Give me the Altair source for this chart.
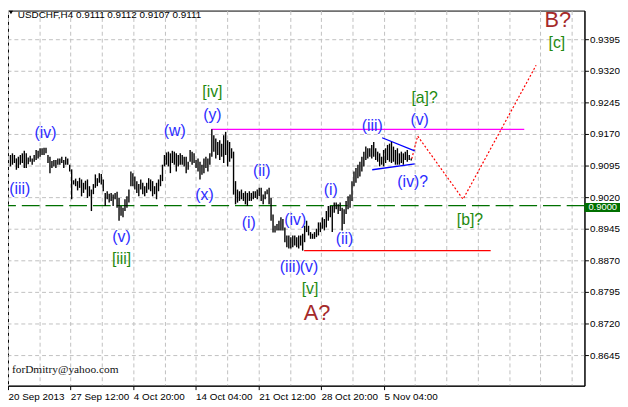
import altair as alt
import pandas as pd

# ---------------- data ----------------
title_text = "USDCHF,H4  0.9111 0.9112 0.9107 0.9111"
signature = "forDmitry@yahoo.com"

highs = [
    0.9120, 0.9124, 0.9120, 0.9112, 0.9116, 0.9120, 0.9124, 0.9130, 0.9124, 0.9114,
    0.9118, 0.9112, 0.9120, 0.9132, 0.9130, 0.9136, 0.9136, 0.9137, 0.9137, 0.9120,
    0.9116, 0.9106, 0.9108, 0.9108, 0.9112, 0.9112, 0.9116, 0.9108, 0.9116, 0.9112,
    0.9097, 0.9086, 0.9060, 0.9064, 0.9058, 0.9066, 0.9062, 0.9054, 0.9059, 0.9062,
    0.9046, 0.9038, 0.9051, 0.9074, 0.9065, 0.9077, 0.9075, 0.9062, 0.9030, 0.9034,
    0.9028, 0.9030, 0.9026, 0.9030, 0.9033, 0.9018, 0.8999, 0.8995, 0.9015, 0.9022,
    0.9038, 0.9081, 0.9077, 0.9069, 0.9058, 0.9051, 0.9062, 0.9054, 0.9046, 0.9054,
    0.9065, 0.9062, 0.9058, 0.9046, 0.9054, 0.9062, 0.9073, 0.9097, 0.9120, 0.9126,
    0.9128, 0.9124, 0.9130, 0.9128, 0.9124, 0.9120, 0.9124, 0.9120, 0.9116, 0.9116,
    0.9104, 0.9132, 0.9128, 0.9124, 0.9108, 0.9112, 0.9104, 0.9097, 0.9112, 0.9116,
    0.9112, 0.9124, 0.9181, 0.9167, 0.9159, 0.9151, 0.9155, 0.9147, 0.9167, 0.9175,
    0.9155, 0.9151, 0.9136, 0.9128, 0.9058, 0.9038, 0.9034, 0.9038, 0.9030, 0.9034,
    0.9030, 0.9034, 0.9030, 0.9034, 0.9034, 0.9038, 0.9042, 0.9042, 0.9026, 0.9034,
    0.9038, 0.9042, 0.9018, 0.8979, 0.8952, 0.8956, 0.8964, 0.8972, 0.8968, 0.8948,
    0.8929, 0.8929, 0.8925, 0.8929, 0.8929, 0.8925, 0.8929, 0.8929, 0.8933, 0.8952,
    0.8964, 0.8952, 0.8937, 0.8933, 0.8937, 0.8945, 0.8960, 0.8960, 0.8972, 0.8968,
    0.8987, 0.8999, 0.8999, 0.8999, 0.9007, 0.9007, 0.9003, 0.9007, 0.8995, 0.8991,
    0.9011, 0.9022, 0.9026, 0.9058, 0.9081, 0.9089, 0.9097, 0.9104, 0.9116, 0.9128,
    0.9140, 0.9136, 0.9136, 0.9144, 0.9151, 0.9136, 0.9128, 0.9124, 0.9116, 0.9132,
    0.9136, 0.9144, 0.9147, 0.9151, 0.9140, 0.9132, 0.9136, 0.9124, 0.9128, 0.9124,
    0.9128, 0.9132, 0.9120, 0.9112,
]
lows = [
    0.9093, 0.9097, 0.9101, 0.9085, 0.9089, 0.9097, 0.9101, 0.9089, 0.9089, 0.9098,
    0.9104, 0.9097, 0.9104, 0.9108, 0.9112, 0.9116, 0.9120, 0.9120, 0.9124, 0.9101,
    0.9077, 0.9089, 0.9093, 0.9089, 0.9097, 0.9097, 0.9101, 0.9089, 0.9097, 0.9097,
    0.9081, 0.9015, 0.9050, 0.9046, 0.9036, 0.9042, 0.9022, 0.9030, 0.9038, 0.9018,
    0.9022, 0.8987, 0.9027, 0.9042, 0.9046, 0.9054, 0.9050, 0.9034, 0.8999, 0.9015,
    0.9007, 0.9011, 0.8999, 0.9015, 0.8995, 0.8964, 0.8976, 0.8972, 0.8987, 0.8995,
    0.9007, 0.9046, 0.9046, 0.9038, 0.9030, 0.9022, 0.9038, 0.9027, 0.9022, 0.9030,
    0.9038, 0.9034, 0.9022, 0.9027, 0.9015, 0.9034, 0.9046, 0.9058, 0.9093, 0.9097,
    0.9093, 0.9077, 0.9101, 0.9097, 0.9081, 0.9093, 0.9097, 0.9097, 0.9093, 0.9077,
    0.9085, 0.9104, 0.9097, 0.9101, 0.9089, 0.9081, 0.9062, 0.9073, 0.9077, 0.9089,
    0.9081, 0.9097, 0.9116, 0.9128, 0.9112, 0.9120, 0.9108, 0.9116, 0.9101, 0.9120,
    0.9093, 0.9104, 0.9112, 0.9026, 0.9003, 0.9007, 0.9011, 0.9015, 0.9011, 0.9003,
    0.8999, 0.9011, 0.9011, 0.9015, 0.9018, 0.9015, 0.9022, 0.9011, 0.9003, 0.9015,
    0.9027, 0.9003, 0.8964, 0.8936, 0.8936, 0.8941, 0.8941, 0.8941, 0.8941, 0.8913,
    0.8901, 0.8898, 0.8898, 0.8901, 0.8905, 0.8901, 0.8898, 0.8905, 0.8893, 0.8913,
    0.8937, 0.8929, 0.8921, 0.8921, 0.8921, 0.8925, 0.8929, 0.8937, 0.8945, 0.8941,
    0.8948, 0.8964, 0.8972, 0.8937, 0.8983, 0.8991, 0.8980, 0.8987, 0.8941, 0.8956,
    0.8980, 0.8991, 0.8995, 0.9011, 0.9046, 0.9054, 0.9065, 0.9069, 0.9081, 0.9093,
    0.9108, 0.9112, 0.9116, 0.9112, 0.9116, 0.9108, 0.9104, 0.9093, 0.9097, 0.9093,
    0.9101, 0.9108, 0.9104, 0.9101, 0.9104, 0.9097, 0.9097, 0.9097, 0.9101, 0.9097,
    0.9108, 0.9104, 0.9108, 0.9107,
]

x_labels = ["20 Sep 2013", "", "27 Sep 12:00", "", "4 Oct 20:00", "", "14 Oct 04:00",
            "", "21 Oct 12:00", "", "28 Oct 20:00", "", "5 Nov 04:00"]
y_ticks = [0.8645, 0.8720, 0.8795, 0.8870, 0.8945, 0.9020, 0.9095,
           0.9170, 0.9245, 0.9320, 0.9395]

minute_text = ["(iv)", "(iii)", "(v)", "(w)", "(y)", "(x)", "(ii)", "(i)", "(iv)",
               "(iii)", "(v)", "(i)", "(ii)", "(iii)", "(v)", "(iv)?"]
minute_x = [18.2, 5.0, 56.7, 83.5, 102.6, 98.4, 127.4, 121.2, 144.4,
            142.3, 151.9, 162.9, 169.6, 183.6, 207.6, 204.3]
minute_y = [0.9173, 0.9040, 0.8926, 0.9177, 0.9216, 0.9025, 0.9083, 0.8958, 0.8966,
            0.8853, 0.8853, 0.9036, 0.8921, 0.9189, 0.9204, 0.9056]

minor_text = ["[iii]", "[iv]", "[v]", "[a]?", "[b]?", "[c]"]
minor_x = [56.7, 102.6, 152.2, 210.1, 233.3, 277.1]
minor_y = [0.8872, 0.9269, 0.8802, 0.9255, 0.8966, 0.9386]

major_text = ["A?", "B?"]
major_x = [155.5, 277.9]
major_y = [0.8728, 0.9423]

resist_x = [102, 261]
resist_price = 0.9181
support_x = [149, 244]
support_price = 0.8893
level_price = 0.9000

tri_x = [188.6, 205.1, 183.5, 205.1]
tri_y = [0.9161, 0.9130, 0.9085, 0.9099]
tri_side = ["upper", "upper", "lower", "lower"]

proj_x = [203.5, 206.8, 229.8, 266.9]
proj_y = [0.9111, 0.9165, 0.9015, 0.9333]

# ---------------- tables ----------------
bars_df = pd.DataFrame({"i": list(range(len(highs))), "high": highs, "low": lows})
minute_df = pd.DataFrame({"t": minute_text, "x": minute_x, "y": minute_y})
minor_df = pd.DataFrame({"t": minor_text, "x": minor_x, "y": minor_y})
major_df = pd.DataFrame({"t": major_text, "x": major_x, "y": major_y})
hlines_df = pd.DataFrame({
    "x": [resist_x[0], support_x[0]], "x2": [resist_x[1], support_x[1]],
    "y": [resist_price, support_price], "kind": ["resist", "support"]})
tri_df = pd.DataFrame({"x": tri_x, "y": tri_y, "side": tri_side})
proj_df = pd.DataFrame({"x": proj_x, "y": proj_y, "o": list(range(len(proj_x)))})
one_df = pd.DataFrame({"title": [title_text], "sig": [signature], "lvl": [level_price]})

# ---------------- scales / axes ----------------
STEP = 15.88
xs = alt.Scale(domain=[-1, 291.3], nice=False, zero=False, round=True)
ys = alt.Scale(domain=[0.857234, 0.946297], nice=False, zero=False)

label_arr = "[" + ",".join("'" + s + "'" for s in x_labels) + "]"
grid_vals = [round(-1 + STEP * k, 3) for k in range(19)]

FONT = "Liberation Sans"
xaxis = alt.Axis(
    values=grid_vals, title=None, grid=True, gridColor="#c0c0c0", gridDash=[4, 3],
    gridWidth=1, tickColor="black", tickSize=4,
    tickOpacity={"condition": {"test": f"round((datum.value+1)/{STEP}) % 2 == 0 && datum.value < 200",
                               "value": 1}, "value": 0},
    labelExpr=f"{label_arr}[round((datum.value+1)/{STEP})] || ''",
    labelAlign="left", labelBaseline="top", labelPadding=2, labelFlush=False,
    labelOverlap=False, labelFont=FONT, labelFontSize=10, labelColor="black",
    domainColor="black")
yaxis = alt.Axis(
    orient="right", values=y_ticks, format=".4f", title=None, grid=True,
    gridColor="#c0c0c0", gridDash=[4, 3], gridWidth=1, tickColor="black", tickSize=4,
    labelPadding=1, labelFont=FONT, labelFontSize=10, labelColor="black",
    labelAlign="left", labelOverlap=False, labelFlush=False, labelBound=False,
    domainColor="black")

NX = dict(scale=xs, axis=xaxis)
NY = dict(scale=ys, axis=yaxis)

# ---------------- layers ----------------
level = alt.Chart(one_df).mark_rule(color="#007000", strokeWidth=1.2, strokeDash=[18, 6]).encode(
    y=alt.Y("lvl:Q", **NY))

bars = alt.Chart(bars_df).mark_rule(color="black", strokeWidth=1.4, xOffset=0.5).encode(
    x=alt.X("i:Q", **NX),
    y=alt.Y("low:Q", **NY),
    y2="high:Q")

hlines = alt.Chart(hlines_df).mark_rule(strokeWidth=1.3).encode(
    x=alt.X("x:Q", **NX), x2="x2:Q",
    y=alt.Y("y:Q", **NY),
    color=alt.Color("kind:N", scale=alt.Scale(domain=["resist", "support"],
                                              range=["#ff00ff", "#ff0000"]), legend=None))

tri = alt.Chart(tri_df).mark_line(color="#0000ff", strokeWidth=1.3).encode(
    x=alt.X("x:Q", **NX), y=alt.Y("y:Q", **NY), detail="side:N")

proj = alt.Chart(proj_df).mark_line(color="#ff0000", strokeWidth=1.2, strokeDash=[2, 2]).encode(
    x=alt.X("x:Q", **NX), y=alt.Y("y:Q", **NY), order="o:Q")

def labels(df, color, size, baseline="middle"):
    return alt.Chart(df).mark_text(color=color, font=FONT, fontSize=size,
                                   align="center", baseline=baseline).encode(
        x=alt.X("x:Q", **NX), y=alt.Y("y:Q", **NY), text="t:N")

minute = labels(minute_df, "#2d2dff", 16)
minor = labels(minor_df, "#1f8a10", 16)
major = labels(major_df, "#a52a2a", 22, "alphabetic")

box = alt.Chart(one_df).mark_rule(color="#007000", strokeWidth=9, yOffset=2).encode(
    x=alt.value(584), x2=alt.value(620), y=alt.Y("lvl:Q", **NY))
box_text = alt.Chart(one_df).mark_text(color="white", font=FONT, fontSize=9.5,
                                       align="left", baseline="middle", dy=2).encode(
    x=alt.value(588), y=alt.Y("lvl:Q", **NY),
    text=alt.Text("lvl:Q", format=".4f"))

title = alt.Chart(one_df).mark_text(color="black", font=FONT, fontSize=10,
                                    align="left", baseline="alphabetic").encode(
    x=alt.value(10), y=alt.value(7.5), text="title:N")
tri_mark = alt.Chart(one_df).mark_point(shape="triangle-down", filled=True, color="black",
                                        size=18, opacity=1).encode(
    x=alt.value(3), y=alt.value(2))
sig = alt.Chart(one_df).mark_text(color="#111111", font="Liberation Serif", fontSize=11.5,
                                  align="left", baseline="middle").encode(
    x=alt.value(4), y=alt.value(364), text="sig:N")

chart = alt.layer(
    level, hlines, proj, tri, bars, minute, minor, major, box, box_text, title, tri_mark, sig
).properties(
    width=584, height=380,
    autosize=alt.AutoSizeParams(type="none"),
    padding={"left": 0, "top": 0, "right": 36, "bottom": 19},
    background="white",
).configure_view(stroke="black", strokeWidth=1
).configure_axis(labelOverlap=False)

chart.save("out.html", embed_options={"renderer": "svg", "actions": False})
